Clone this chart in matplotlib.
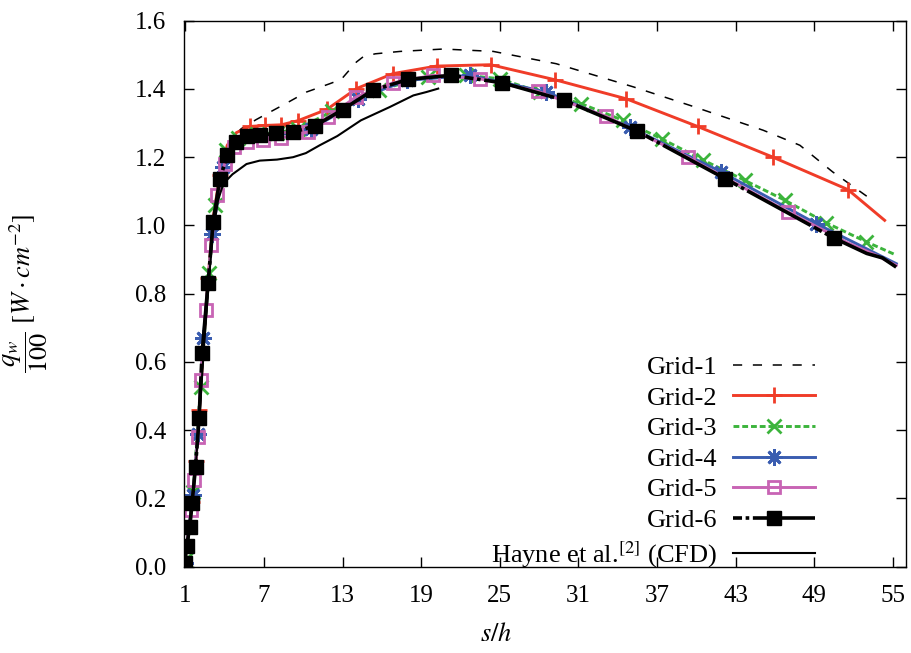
import matplotlib
matplotlib.use("Agg")
import matplotlib.pyplot as plt

# wall heat flux along the wall, grid study
s1 = [0.95, 1.5, 2.05, 2.74, 3.12, 3.63, 4.2, 4.9, 5.29, 6.4, 7.45, 8.8, 10.25, 12.0, 12.9,
      14.06, 14.6, 15.5, 17.4, 20.7, 24.5, 29.3, 35.2, 39.5, 45.1, 47.9, 50.4, 53.1]
q1 = [0.01, 0.19, 0.44, 0.84, 1.02, 1.145, 1.225, 1.27, 1.284, 1.31, 1.332, 1.36, 1.391, 1.415, 1.428,
      1.479, 1.495, 1.503, 1.51, 1.517, 1.51, 1.474, 1.406, 1.352, 1.279, 1.235, 1.157, 1.083]

s2 = [1.0, 1.53, 1.8, 2.08, 2.4, 2.74, 3.12, 3.63, 4.2, 4.9, 5.92, 7.07, 8.34, 9.6, 11.8,
      14.06, 16.85, 20.17, 24.3, 29.2, 34.66, 40.1, 45.85, 51.57, 54.37]
q2 = [0.02, 0.19, 0.31, 0.46, 0.66, 0.845, 1.02, 1.147, 1.235, 1.272, 1.29, 1.293, 1.295, 1.307, 1.34,
      1.401, 1.445, 1.467, 1.471, 1.427, 1.371, 1.29, 1.2, 1.105, 1.015]
m2 = [1, 2, 3, 5, 7, 10, 11, 12, 13, 14, 15, 16, 17, 18, 19, 20, 21, 22, 23]

s3 = [1.0, 1.6, 2.16, 2.8, 3.3, 4.1, 5.0, 6.5, 8.0, 9.6, 12.2, 15.8, 19.5, 22.4, 25.0, 28.1,
      31.2, 34.4, 37.4, 40.5, 43.7, 46.75, 49.9, 52.97, 55.26]
q3 = [0.02, 0.22, 0.527, 0.86, 1.06, 1.22, 1.255, 1.268, 1.272, 1.282, 1.335, 1.398, 1.435, 1.44, 1.43, 1.39,
      1.357, 1.308, 1.253, 1.192, 1.132, 1.074, 1.008, 0.952, 0.913]
m3 = list(range(24))

s4 = [0.95, 1.58, 1.96, 2.38, 3.05, 3.9, 5.0, 7.0, 9.0, 10.6, 12.2, 14.19, 17.9, 22.7, 28.56,
      34.9, 41.9, 49.16, 52.2, 54.0, 55.26]
q4 = [0.01, 0.21, 0.39, 0.669, 0.976, 1.171, 1.243, 1.262, 1.27, 1.283, 1.318, 1.371, 1.425, 1.44, 1.391,
      1.288, 1.157, 1.005, 0.947, 0.912, 0.888]
m4 = [0, 1, 2, 3, 4, 5, 9, 11, 12, 13, 14, 15, 16, 17]

s5 = [0.85, 1.47, 1.69, 1.95, 2.18, 2.56, 2.98, 3.44, 4.0, 4.75, 5.67, 6.9, 8.3, 10.4, 11.9, 14.0,
      16.85, 19.9, 23.47, 27.9, 33.1, 39.35, 47.0, 51.5, 53.7, 55.26]
q5 = [0.0, 0.166, 0.254, 0.38, 0.547, 0.752, 0.942, 1.088, 1.181, 1.23, 1.245, 1.25, 1.256, 1.274, 1.318, 1.376,
      1.418, 1.44, 1.43, 1.393, 1.32, 1.2, 1.04, 0.95, 0.913, 0.883]
m5 = list(range(23))

s6 = [0.95, 1.1, 1.34, 1.52, 1.78, 2.05, 2.28, 2.74, 3.12, 3.63, 4.2, 4.9, 5.67, 6.68, 7.9, 9.2,
      10.9, 13.0, 15.3, 18.0, 21.3, 25.2, 29.9, 35.5, 42.2, 50.5, 53.0, 54.2, 55.25]
q6 = [0.01, 0.06, 0.117, 0.187, 0.293, 0.435, 0.626, 0.831, 1.01, 1.135, 1.205, 1.245, 1.261, 1.264, 1.27, 1.273,
      1.292, 1.339, 1.396, 1.428, 1.44, 1.418, 1.367, 1.276, 1.137, 0.963, 0.918, 0.905, 0.878]
m6 = list(range(26))

# Hayne et al. CFD reference
sh = [0.9, 1.2, 1.5, 1.8, 2.1, 2.4, 2.8, 3.1, 3.38, 3.5, 3.8, 4.14, 4.6, 5.03, 5.67, 6.68, 8.0,
      9.22, 10.2, 11.26, 12.6, 14.4, 16.6, 18.4, 19.4, 20.3]
qh = [0.0, 0.07, 0.19, 0.30, 0.45, 0.63, 0.84, 0.98, 1.045, 1.074, 1.11, 1.132, 1.15, 1.162, 1.18, 1.19, 1.193,
      1.2, 1.212, 1.235, 1.262, 1.308, 1.347, 1.381, 1.391, 1.401]

x_ticks = [1, 7, 13, 19, 25, 31, 37, 43, 49, 55]
y_ticks = [0.0, 0.2, 0.4, 0.6, 0.8, 1.0, 1.2, 1.4, 1.6]

plt.rcParams['font.family'] = 'Liberation Serif'
plt.rcParams['mathtext.fontset'] = 'stix'

fig = plt.figure(figsize=(9.11, 6.53), dpi=100)
ax = fig.add_axes([184 / 911, 1 - 566.7 / 653, 722 / 911, 546 / 653])

lw = 2.1
ax.plot(s1, q1, color='black', lw=1.1, dashes=(6, 7), label='Grid-1')
ax.plot(s2, q2, color='#f03c28', lw=lw, marker='+', ms=11, mew=2.0, markevery=m2, label='Grid-2')
ax.plot(s3, q3, color='#3cb43c', lw=lw, ls=(0, (2, 1)), marker='x', ms=10, mew=2.0,
        markevery=m3, label='Grid-3')
ax.plot(s4, q4, color='#3a5db0', lw=lw, marker=(8, 2, 0), ms=12, mew=2.0, markevery=m4, label='Grid-4')
ax.plot(s5, q5, color='#c864b4', lw=lw, marker='s', ms=9, mew=2.0, mfc='none',
        markevery=m5, label='Grid-5')
ax.plot(s6, q6, color='black', lw=2.6, ls=(0, (2.5, 1, 1, 1, 20, 1)), marker='s', ms=9.5,
        markevery=m6, label='Grid-6')
ax.plot(sh, qh, color='black', lw=1.5, label=r'Hayne et al.$^{[2]}$ (CFD)')

ax.set_xlim(0.9, 56)
ax.set_ylim(0, 1.6)
ax.set_xticks(x_ticks)
ax.set_xticklabels([str(x) for x in x_ticks])
ax.set_yticks(y_ticks)
ax.set_yticklabels(['%.1f' % y for y in y_ticks])
ax.tick_params(direction='in', length=7, width=1, top=True, right=True, labelsize=18)
ax.tick_params(axis='y', pad=13)
ax.tick_params(axis='x', pad=13)
for sp in ax.spines.values():
    sp.set_linewidth(1.0)

ax.set_xlabel(r'$s/h$', fontsize=19)
ax.set_ylabel(r'$\dfrac{q_w}{100}$ $[W\cdot cm^{-2}]$', fontsize=19)
ax.xaxis.set_label_coords(0.432, -0.103)
ax.yaxis.set_label_coords(-0.185, 0.5)

ax.legend(loc='lower right', bbox_to_anchor=(0.874, -0.0055), frameon=False, markerfirst=False,
          fontsize=19, handlelength=3.1, handletextpad=0.6, labelspacing=0.27,
          borderpad=0, borderaxespad=0)

fig.savefig('out.png', dpi=100)
